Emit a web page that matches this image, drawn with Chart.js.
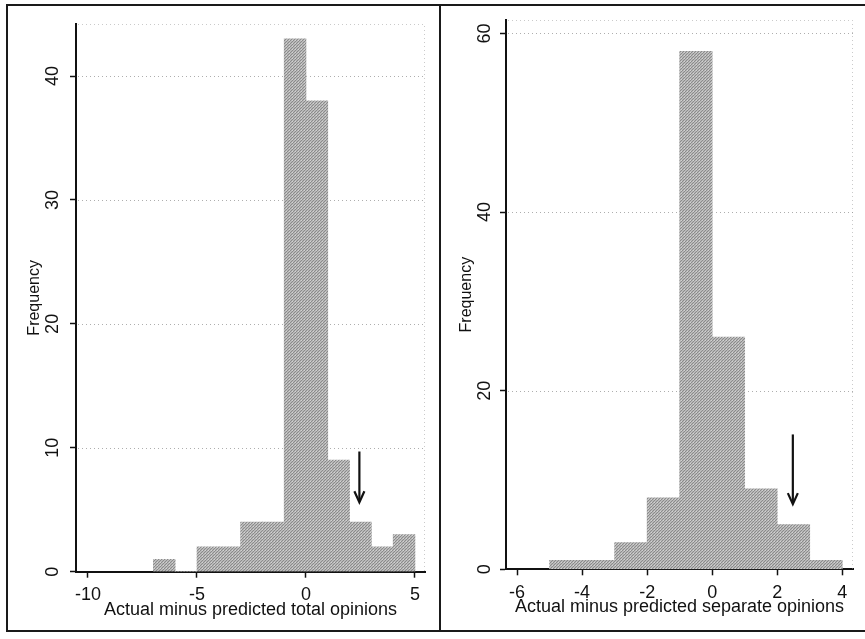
<!DOCTYPE html>
<html><head><meta charset="utf-8">
<script src="https://cdn.jsdelivr.net/npm/chart.js@4.4.0/dist/chart.umd.min.js"></script>
<style>
html,body{margin:0;padding:0;background:#fff;}
body{width:865px;height:639px;position:relative;overflow:hidden;}
#frame{position:absolute;left:6px;top:4px;width:870px;height:628px;border:2px solid #1a1a1a;box-sizing:border-box;}
#divider{position:absolute;left:439px;top:4px;width:2px;height:628px;background:#1a1a1a;}
.wrap{position:absolute;top:0;height:639px;}
#w1{left:0;width:440px;}
#w2{left:440px;width:425px;}
</style></head><body>
<div id="frame"></div><div id="divider"></div>
<div class="wrap" id="w1"><canvas id="c1"></canvas></div>
<div class="wrap" id="w2"><canvas id="c2"></canvas></div>
<script>
// ---- data ----
const binWidth = 1;
const totalBinStarts = [-7, -6, -5, -4, -3, -2, -1, 0, 1, 2, 3, 4];
const totalCounts    = [ 1,  0,  2,  2,  4,  4, 43, 38, 9, 4, 2, 3];
const separateBinStarts = [-5, -4, -3, -2, -1, 0, 1, 2, 3];
const separateCounts    = [ 1,  1,  3,  8, 58, 26, 9, 5, 1];
const totalXTicks = [-10, -5, 0, 5];
const totalYTicks = [0, 10, 20, 30, 40];
const separateXTicks = [-6, -4, -2, 0, 2, 4];
const separateYTicks = [0, 20, 40, 60];
const totalArrow = [2.45, 9.7, 5.6];      // x, start y, tip y
const separateArrow = [2.48, 15.1, 7.3];
const totalXTitle = 'Actual minus predicted total opinions';
const separateXTitle = 'Actual minus predicted separate opinions';
const yTitle = 'Frequency';

const FAMILY = '"Liberation Sans", Arial, Helvetica, sans-serif';
const INK = '#111';

function makePattern(canvas){
  const c = document.createElement('canvas'); c.width = 3; c.height = 3;
  const g = c.getContext('2d');
  g.fillStyle = '#b9b9b9'; g.fillRect(0,0,3,3);
  g.fillStyle = '#8a8a8a';
  g.fillRect(0,0,1,1); g.fillRect(2,1,1,1); g.fillRect(1,2,1,1);
  g.fillStyle = '#d2d2d2'; g.fillRect(1,1,1,1);
  return canvas.getContext('2d').createPattern(c, 'repeat');
}

const decor = {
  id: 'decor',
  beforeDatasetsDraw(chart, args, opts){
    const {ctx, chartArea: a, scales: {x, y}} = chart;
    ctx.save();
    ctx.lineWidth = 1;
    ctx.setLineDash([1, 3]);
    ctx.strokeStyle = opts.gridColor;
    y.ticks.forEach(t => {
      if (t.value === 0) return;
      const py = Math.round(y.getPixelForValue(t.value)) + 0.5;
      ctx.beginPath(); ctx.moveTo(a.left + 2, py); ctx.lineTo(a.right, py); ctx.stroke();
    });
    ctx.strokeStyle = opts.boxColor;
    ctx.beginPath(); ctx.moveTo(a.left + 2, a.top + 0.5); ctx.lineTo(a.right - 0.5, a.top + 0.5);
    ctx.lineTo(a.right - 0.5, a.bottom); ctx.stroke();
    ctx.restore();
  },
  afterDatasetsDraw(chart, args, opts){
    const {ctx, scales: {x, y}} = chart;
    const [ax, y0, y1] = opts.arrow;
    const px = x.getPixelForValue(ax), p0 = y.getPixelForValue(y0), p1 = y.getPixelForValue(y1);
    ctx.save();
    ctx.strokeStyle = INK; ctx.lineWidth = 2.2; ctx.lineCap = 'butt';
    ctx.beginPath(); ctx.moveTo(px, p0); ctx.lineTo(px, p1 - 1); ctx.stroke();
    ctx.beginPath(); ctx.moveTo(px - 5, p1 - 11); ctx.lineTo(px, p1); ctx.lineTo(px + 5, p1 - 11); ctx.stroke();
    ctx.restore();
  }
};

function build(id, starts, counts, xTicks, yTicks, xMin, xMax, yMax, xTitle, arrow, L){
  const canvas = document.getElementById(id);
  return new Chart(canvas, {
    type: 'bar',
    data: {
      datasets: [{
        data: starts.map((s, i) => ({x: s + binWidth / 2, y: counts[i]})),
        backgroundColor: makePattern(canvas),
        borderWidth: 0,
        barPercentage: 1,
        categoryPercentage: 1
      }]
    },
    plugins: [decor],
    options: {
      responsive: true, maintainAspectRatio: false, animation: false,
      layout: {padding: {left: 0, top: L.top, right: L.right, bottom: 0}},
      plugins: {
        legend: {display: false}, tooltip: {enabled: false},
        decor: {arrow: arrow, gridColor: 'rgba(120,120,120,0.6)', boxColor: 'rgba(150,150,150,0.5)'}
      },
      scales: {
        x: {
          type: 'linear', min: xMin, max: xMax, offset: false,
          afterBuildTicks: s => { s.ticks = xTicks.map(v => ({value: v})); },
          afterFit: s => { s.height = L.xH; },
          ticks: {autoSkip: false, maxRotation: 0, minRotation: 0, padding: 7, color: INK,
                  font: {size: 18, family: FAMILY}, callback: v => String(v)},
          grid: {drawOnChartArea: false, offset: false, tickLength: 6, tickColor: INK, tickWidth: 1.5},
          border: {color: INK, width: 2},
          title: {display: true, text: xTitle, color: INK, font: {size: 18, family: FAMILY},
                  padding: {top: 0, bottom: L.xtPad}}
        },
        y: {
          type: 'linear', min: 0, max: yMax,
          afterBuildTicks: s => { s.ticks = yTicks.map(v => ({value: v})); },
          afterFit: s => { s.width = L.yW; },
          ticks: {minRotation: 90, maxRotation: 90, crossAlign: 'center', padding: L.ytPad, color: INK,
                  font: {size: 18, family: FAMILY}, callback: v => String(v)},
          grid: {drawOnChartArea: false, tickLength: 6, tickColor: INK, tickWidth: 1.5},
          border: {color: INK, width: 2},
          title: {display: true, text: yTitle, color: INK, font: {size: 16, family: FAMILY},
                  padding: {top: L.ytitlePad, bottom: 0}}
        }
      }
    }
  });
}

build('c1', totalBinStarts, totalCounts, totalXTicks, totalYTicks, -10.55, 5.46, 44.2, totalXTitle, totalArrow,
      {top: 24, right: 15, xH: 67.3, yW: 76, xtPad: 18, ytPad: 6.5, ytitlePad: 25});
build('c2', separateBinStarts, separateCounts, separateXTicks, separateYTicks, -6.34, 4.33, 61.5, separateXTitle, separateArrow,
      {top: 20, right: 12, xH: 69.7, yW: 66, xtPad: 21, ytPad: 5, ytitlePad: 17});
</script>
</body></html>
